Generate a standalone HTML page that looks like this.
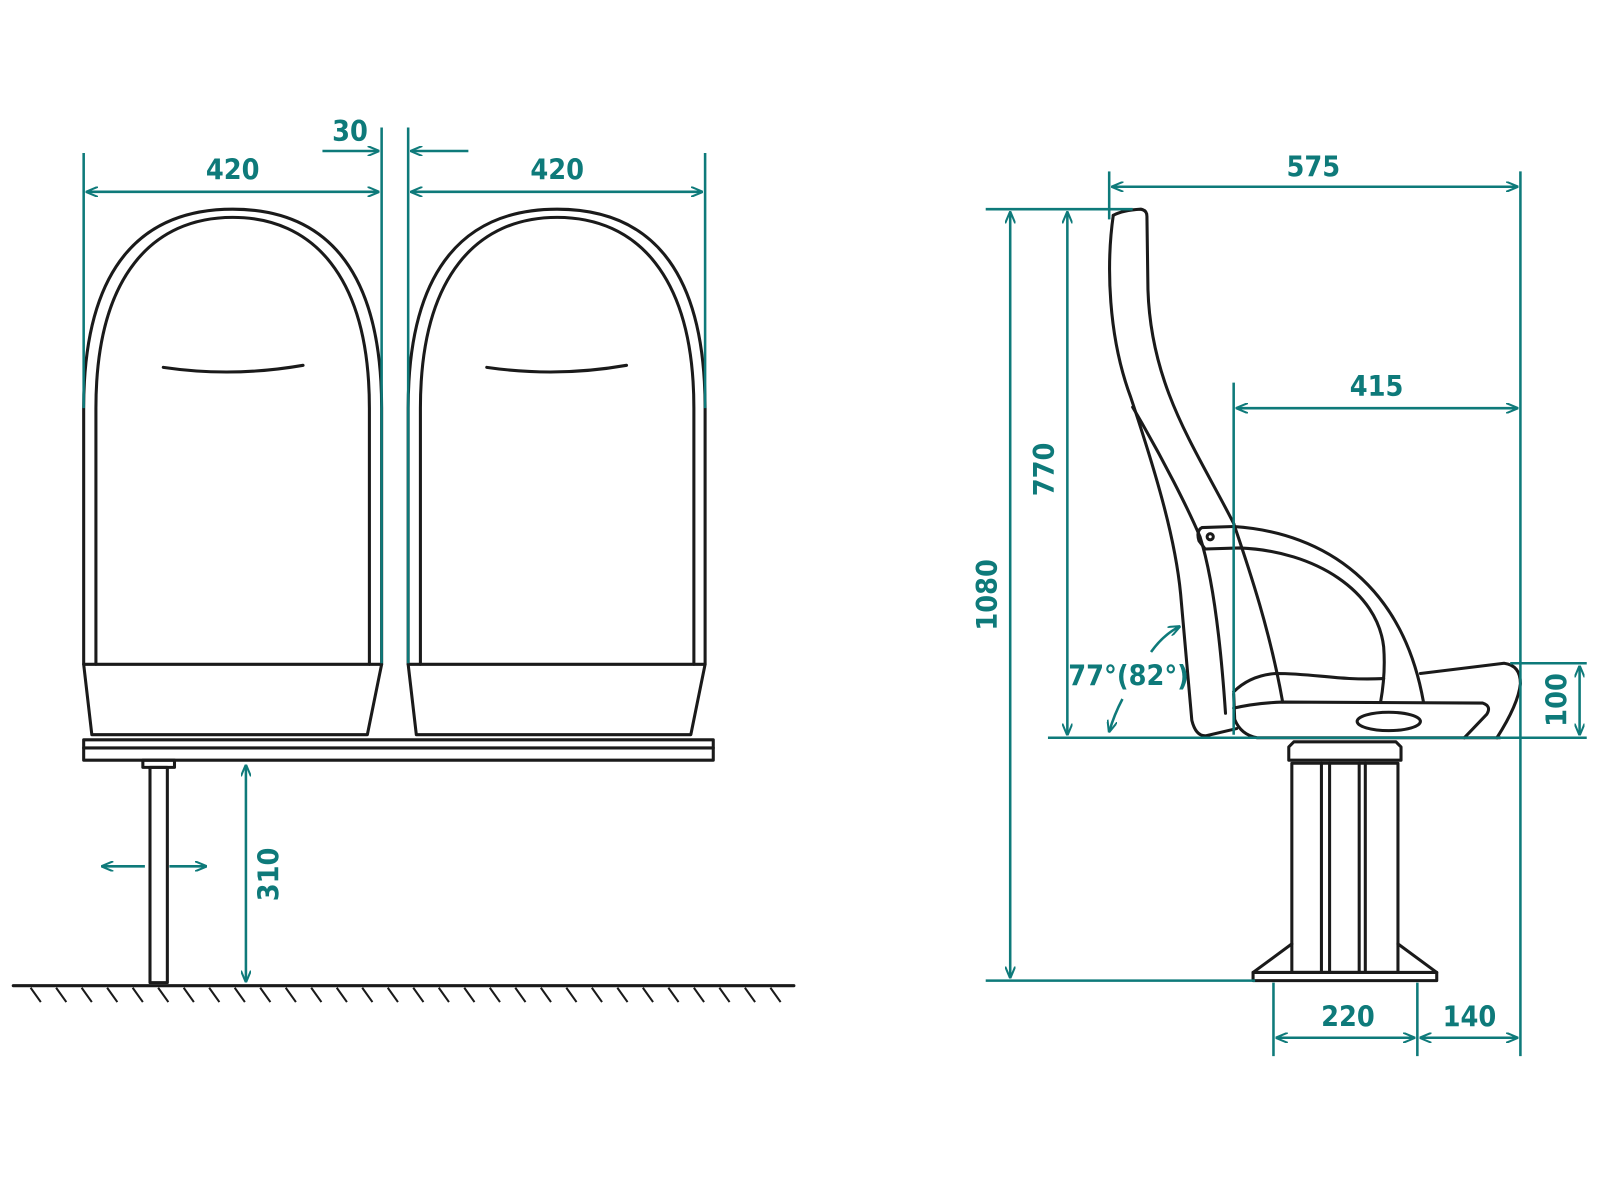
<!DOCTYPE html>
<html><head><meta charset="utf-8"><style>
html,body{margin:0;padding:0;background:#fff;}
svg{display:block}
text{font-family:"DejaVu Sans Condensed","Liberation Sans",sans-serif;font-weight:bold;fill:#0e7a7a;font-size:28px;}
</style></head><body>
<svg width="1600" height="1200" viewBox="0 0 1568 1176" preserveAspectRatio="none" xmlns="http://www.w3.org/2000/svg">
<defs>
<marker id="a" viewBox="0 0 12 10" refX="11" refY="5" markerWidth="12" markerHeight="10" orient="auto-start-reverse" markerUnits="userSpaceOnUse">
<path d="M0,0 L12,5 L0,10" fill="none" stroke="#0e7a7a" stroke-width="2"/>
</marker>
</defs>
<g fill="none" stroke="#1a1a1a" stroke-width="3" stroke-linejoin="round" stroke-linecap="round">
<path d="M82,651 L82,400 C82,260 140,205 228,205 C316,205 374,260 374,400 L374,651"/>
<path d="M94,651 L94,400 C94,270 150,213 228,213 C306,213 362,270 362,400 L362,651"/>
<path d="M82,651 L374,651 L360,720 L90,720 Z"/>
<path d="M160,360 Q228,370 297,358"/>
<path d="M400,651 L400,400 C400,260 458,205 546,205 C634,205 691,260 691,400 L691,651"/>
<path d="M412,651 L412,400 C412,270 468,213 546,213 C624,213 680,270 680,400 L680,651"/>
<path d="M400,651 L691,651 L677,720 L408,720 Z"/>
<path d="M477,360 Q546,370 614,358"/>
<rect x="82" y="725" width="617" height="20"/>
<line x1="82" y1="733" x2="699" y2="733"/>
<rect x="140" y="745" width="31" height="7"/>
<rect x="147" y="752" width="17" height="211"/>
<line x1="13" y1="966" x2="778" y2="966"/>
<path d="M1091,211 Q1100,206 1118,205 Q1124,206 1124,212 L1125,284 C1128,380 1172,440 1209,513"/>
<path d="M1091,211 C1084,260 1086,330 1108,389 C1135,470 1152,530 1157,582 L1168,706 Q1172,722 1182,721 L1212,714"/>
<path d="M1110,399 C1140,450 1165,500 1176,526 C1190,570 1197,640 1201,699"/>
<path d="M1209,513 C1225,560 1245,620 1257,688"/>
<path d="M1209,516 L1178,517 Q1172,520 1175,530 L1181,538 L1215,537 C1290,540 1350,580 1356,634 Q1358,660 1353,688"/>
<path d="M1209,516 C1300,522 1375,575 1395,688"/>
<circle cx="1186" cy="526" r="3"/>
<path d="M1209,678 Q1225,662 1250,660 C1290,660 1310,667 1356,665"/>
<path d="M1392,660 L1474,650 Q1490,652 1490,670 Q1488,690 1467,723"/>
<path d="M1209,694 Q1230,689 1257,688 L1453,689 Q1462,692 1457,700 L1435,723"/>
<path d="M1209,680 L1210,705 Q1216,720 1232,723 L1470,723"/>
<ellipse cx="1361" cy="707" rx="31" ry="9"/>
<path d="M1263,745 L1263,732 L1268,727 L1368,727 L1373,732 L1373,745 Z"/>
<rect x="1266" y="748" width="104" height="205"/>
<line x1="1295" y1="748" x2="1295" y2="953"/><line x1="1303" y1="748" x2="1303" y2="953"/>
<line x1="1332" y1="748" x2="1332" y2="953"/><line x1="1338" y1="748" x2="1338" y2="953"/>
<path d="M1266,925 L1228,953 L1228,961 L1408,961 L1408,953 L1370,925"/>
<line x1="1228" y1="953" x2="1408" y2="953"/>
</g>
<g stroke="#1a1a1a" stroke-width="2">
<path d="M30,968 l10,14 M55,968 l10,14 M80,968 l10,14 M105,968 l10,14 M130,968 l10,14 M155,968 l10,14 M180,968 l10,14 M205,968 l10,14 M230,968 l10,14 M255,968 l10,14 M280,968 l10,14 M305,968 l10,14 M330,968 l10,14 M355,968 l10,14 M380,968 l10,14 M405,968 l10,14 M430,968 l10,14 M455,968 l10,14 M480,968 l10,14 M505,968 l10,14 M530,968 l10,14 M555,968 l10,14 M580,968 l10,14 M605,968 l10,14 M630,968 l10,14 M655,968 l10,14 M680,968 l10,14 M705,968 l10,14 M730,968 l10,14 M755,968 l10,14"/>
</g>
<g stroke="#0e7a7a" stroke-width="2.5" fill="none">
<line x1="82" y1="150" x2="82" y2="400"/>
<line x1="374" y1="125" x2="374" y2="650"/>
<line x1="400" y1="125" x2="400" y2="650"/>
<line x1="691" y1="150" x2="691" y2="400"/>
<line x1="85" y1="188" x2="371" y2="188" marker-start="url(#a)" marker-end="url(#a)"/>
<line x1="403" y1="188" x2="688" y2="188" marker-start="url(#a)" marker-end="url(#a)"/>
<line x1="316" y1="148" x2="371" y2="148" marker-end="url(#a)"/>
<line x1="459" y1="148" x2="403" y2="148" marker-end="url(#a)"/>
<line x1="241" y1="750" x2="241" y2="962" marker-start="url(#a)" marker-end="url(#a)"/>
<line x1="142" y1="849" x2="100" y2="849" marker-end="url(#a)"/>
<line x1="166" y1="849" x2="202" y2="849" marker-end="url(#a)"/>
<line x1="1087" y1="168" x2="1087" y2="215"/>
<line x1="1490" y1="168" x2="1490" y2="1035"/>
<line x1="1090" y1="183" x2="1487" y2="183" marker-start="url(#a)" marker-end="url(#a)"/>
<line x1="966" y1="205" x2="1110" y2="205"/>
<line x1="990" y1="208" x2="990" y2="958" marker-start="url(#a)" marker-end="url(#a)"/>
<line x1="1046" y1="208" x2="1046" y2="720" marker-start="url(#a)" marker-end="url(#a)"/>
<line x1="1027" y1="723" x2="1555" y2="723"/>
<line x1="966" y1="961" x2="1230" y2="961"/>
<line x1="1209" y1="375" x2="1209" y2="720"/>
<line x1="1212" y1="400" x2="1487" y2="400" marker-start="url(#a)" marker-end="url(#a)"/>
<line x1="1480" y1="650" x2="1555" y2="650"/>
<line x1="1548" y1="653" x2="1548" y2="720" marker-start="url(#a)" marker-end="url(#a)"/>
<line x1="1248" y1="963" x2="1248" y2="1035"/>
<line x1="1389" y1="963" x2="1389" y2="1035"/>
<line x1="1251" y1="1017" x2="1386" y2="1017" marker-start="url(#a)" marker-end="url(#a)"/>
<line x1="1392" y1="1017" x2="1487" y2="1017" marker-start="url(#a)" marker-end="url(#a)"/>
<path d="M1128,639 Q1140,622 1156,614" marker-end="url(#a)"/>
<path d="M1100,685 Q1092,700 1087,717" marker-end="url(#a)"/>
</g>
<text x="228" y="176" text-anchor="middle">420</text>
<text x="546" y="176" text-anchor="middle">420</text>
<text x="343" y="138" text-anchor="middle">30</text>
<text transform="translate(273,857) rotate(-90)" text-anchor="middle">310</text>
<text x="1287" y="173" text-anchor="middle">575</text>
<text x="1349" y="388" text-anchor="middle">415</text>
<text transform="translate(977,583) rotate(-90)" text-anchor="middle">1080</text>
<text transform="translate(1033,460) rotate(-90)" text-anchor="middle">770</text>
<text transform="translate(1535,686) rotate(-90)" text-anchor="middle">100</text>
<text x="1106" y="672" text-anchor="middle">77°(82°)</text>
<text x="1321" y="1006" text-anchor="middle">220</text>
<text x="1440" y="1006" text-anchor="middle">140</text>
</svg>
</body></html>
